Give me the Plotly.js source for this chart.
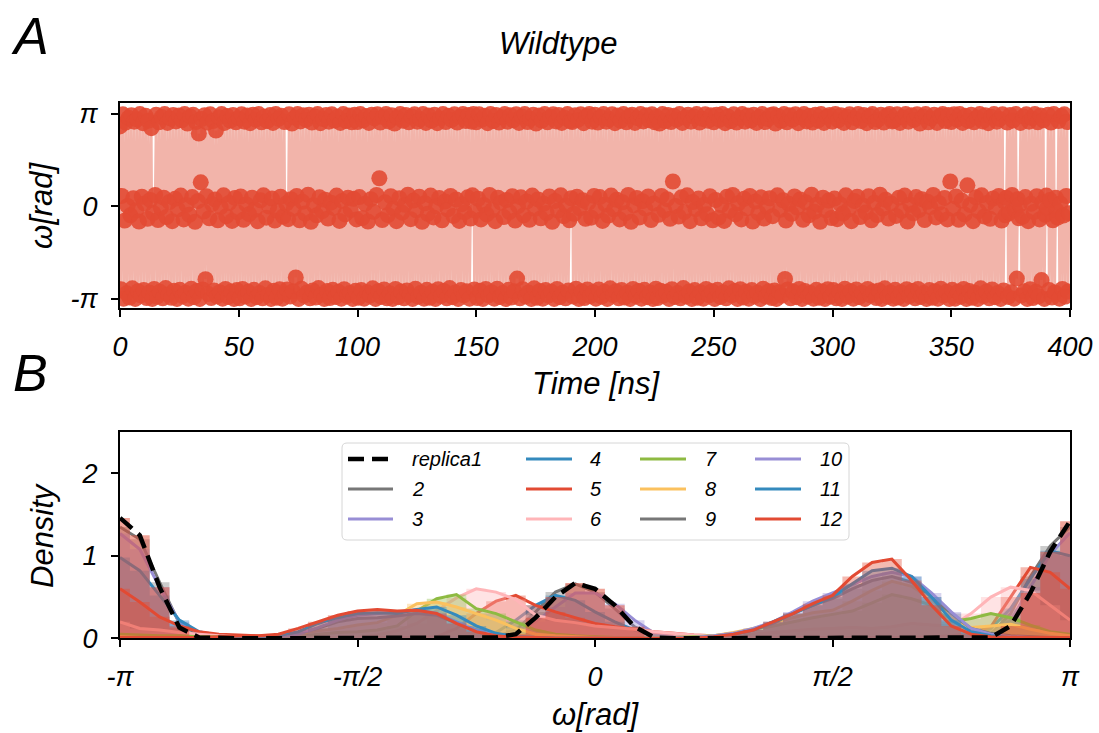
<!DOCTYPE html>
<html>
<head>
<meta charset="utf-8">
<script src="https://cdn.plot.ly/plotly-3.0.1.min.js"></script>
<style>
  html, body { margin: 0; padding: 0; background: #ffffff; }
  #chart { width: 1099px; height: 733px; }
</style>
</head>
<body>
<div id="chart"></div>
<script>
// ---------------------------------------------------------------
// Panel A: omega dihedral of the wildtype trajectory, one frame
// every 0.4 ns, stored in 50 ns blocks.
// ---------------------------------------------------------------
const frameStep = 0.4;
const blockStarts = [0, 50, 100, 150, 200, 250, 300, 350];

const omega_000_050 = [
  2.72,-2.81,0.36, 3.13,-3.13,-0.48, 2.85,-2.95,0.02, 3.01,-3.09,-0.3, 3.1,-2.78,0.28, 2.88,-3.14,-0.14,
  2.96,-2.88,-0.51, 3.14,-3.02,0.33, 2.83,-2.84,0.1, 3.08,-3.11,-0.42, 2.91,-2.92,0.22, 2.66,-3.14,-0.22,
  -2.8,0.39,
  3.12,-3.06,-0.46, 2.86,-2.9,-0.05, 3.04,-3.12,0.3, 3.14,-2.77,-0.36, 2.84,-2.99,0.15, 2.99,-3.1,-0.5,
  3.11,-2.86,0.26, 2.89,-3.14,-0.1, 3.09,-2.83,0.37, 2.93,-3.04,-0.44, 3.14,-2.93,0.05, 2.82,-3.13,-0.28,
  3.06,-2.79,0.32, 3.12,-3.08,-0.52, 2.87,-2.87,0.18, 2.48,-3.14,0.82, 2.97,-2.82,-0.17, 3.1,-2.47,0.35,
  2.85,-2.97,-0.4, 3.13,-3.11,0.08, 2.9,-2.85,0.24, 2.58,-3.05,-0.47, 3.03,-2.91,-0.02, 3.14,-3.13,0.38,
  2.84,-2.8,-0.33, 3.07,-3.07,0.12, 2.92,-2.89,-0.49, 3.11,-3.14,0.29, 2.86,-2.84,-0.2];
const omega_050_100 = [
  3.0,-3.12,0.34, 3.13,-2.8,-0.45, 2.88,-3.05,0.07, 3.09,-2.9,-0.26, 2.83,-3.14,0.3, 3.12,-2.83,-0.11,
  2.95,-3.08,-0.5, 3.14,-2.94,0.21, 2.86,-3.12,0.38, 3.05,-2.78,-0.38, 2.9,-3.01,0.0, 3.11,-3.14,0.27,
  2.84,-2.86,-0.48, 3.14,-3.1,-0.15, 2.98,-2.81,0.33, 3.08,-3.13,-0.34, 2.87,-2.96,0.1,
  -2.82,-0.43,
  3.13,-3.06,0.25, 2.82,-2.88,-0.08, 3.02,-2.41,0.36, 3.14,-3.14,-0.47, 2.89,-2.79,0.16, 3.1,-3.03,-0.24,
  2.94,-2.92,0.4, 3.12,-3.12,-0.52, 2.85,-2.85,0.04, 3.06,-3.09,-0.3, 3.14,-2.77,0.31, 2.83,-3.0,-0.16,
  2.97,-3.14,0.23, 3.11,-2.87,-0.41, 2.88,-3.11,0.13, 3.13,-2.83,-0.05, 2.92,-3.07,0.37, 3.05,-2.9,-0.49,
  2.84,-3.13,0.19, 3.14,-2.81,-0.27, 2.9,-3.04,0.3, 3.09,-2.94,-0.12, 2.86,-3.14,0.26, 3.12,-2.86,-0.44];
const omega_100_150 = [
  2.87,-3.1,0.32, 3.14,-2.84,-0.39, 2.93,-3.13,0.09, 3.07,-2.91,-0.51, 2.84,-3.03,0.25, 3.12,-2.78,-0.18,
  2.99,-3.14,0.39, 3.13,-2.88,0.96, 2.85,-3.07,-0.46, 3.04,-2.82,0.14, 3.14,-3.12,-0.29, 2.89,-2.95,0.35,
  3.1,-3.14,-0.07, 2.82,-2.8,-0.5, 3.02,-3.08,0.28, 3.14,-2.89,-0.21, 2.91,-3.12,0.06, 3.11,-2.85,0.4,
  2.86,-3.0,-0.43, 3.06,-3.14,0.2, 3.13,-2.79,-0.13, 2.88,-3.06,0.33, 2.96,-2.93,-0.52, 3.14,-3.13,0.11,
  2.84,-2.83,-0.25, 3.09,-3.1,0.37, 2.92,-2.9,-0.37, 3.12,-3.14,0.02, 2.83,-2.81,0.29, 3.0,-3.04,-0.47,
  3.14,-2.87,0.17, 2.87,-3.12,-0.1, 3.08,-2.77,0.36, 2.94,-3.08,-0.32, 3.13,-2.92,0.24, 2.85,-3.14,-0.49,
  3.05,-2.84,0.08, 3.14,-3.02,-0.2, 2.9,-2.88,0.31, 3.11,-3.13,-0.41,
  2.88,0.38,
  3.14,-2.82,-0.15];
const omega_150_200 = [
  2.86,-3.11,0.26, 3.13,-2.86,-0.44, 2.95,-3.14,0.05, 3.08,-2.8,-0.27, 2.83,-3.02,0.39, 3.14,-2.91,-0.12,
  2.9,-3.13,-0.5, 3.11,-2.79,0.3, 2.85,-3.07,0.13, 3.03,-2.94,-0.36, 3.14,-3.14,0.22, 2.88,-2.83,-0.19,
  3.1,-3.09,0.35, 2.93,-2.88,-0.48, 3.13,-2.45,0.01, 2.84,-3.12,0.31, 3.06,-2.81,-0.3, 3.14,-3.05,0.17,
  2.87,-2.92,-0.45, 2.98,-3.14,0.37, 3.12,-2.78,-0.08, 2.82,-3.1,0.24, 3.09,-2.87,-0.4, 2.92,-3.13,0.09,
  3.14,-2.84,-0.22, 2.86,-3.03,0.34, 3.05,-2.9,-0.52, 3.13,-3.14,0.19, 2.89,-2.8,-0.14, 3.11,-3.08,0.38,
  2.84,-2.93,-0.33, 3.01,-3.12,0.03, 3.14,-2.85,-0.47,
  2.9,0.28,
  2.87,-3.06,-0.25, 3.1,-2.79,0.33, 2.94,-3.14,-0.06, 3.13,-2.89,0.21, 2.83,-3.11,-0.42, 3.07,-2.82,0.12,
  3.14,-3.04,-0.38, 2.88,-2.91,0.36];
const omega_200_250 = [
  3.12,-3.13,-0.16, 2.85,-2.82,0.32, 3.04,-3.06,-0.49, 3.14,-2.9,0.07, 2.88,-3.14,-0.31, 2.96,-2.78,0.37,
  3.13,-3.01,-0.1, 2.83,-2.88,0.23, 3.09,-3.12,-0.44, 2.91,-2.84,0.14, 3.14,-3.09,-0.23, 2.86,-2.93,0.39,
  3.07,-3.14,-0.52, 3.12,-2.8,0.04, 2.84,-3.04,0.29, 3.0,-2.87,-0.37, 3.14,-3.13,0.18, 2.89,-2.83,-0.07,
  3.1,-3.08,0.34, 2.93,-2.92,-0.46, 3.13,-3.14,0.1,
  2.86,-2.79,
  3.05,-3.11,-0.28, 2.82,-2.86,0.36, 3.14,-3.03,-0.13, 2.9,-2.9,0.25, 3.11,-3.14,-0.42, 2.87,-2.81,0.85,
  3.08,-3.07,0.02, 2.95,-2.94,-0.34, 3.14,-3.12,0.31, 2.84,-2.77,-0.19, 3.02,-3.05,0.38, 3.12,-2.89,-0.5,
  2.88,-3.14,0.15, 3.06,-2.84,-0.09, 3.14,-3.1,0.27, 2.85,-2.91,-0.4, 2.98,-3.13,0.06, 3.13,-2.8,-0.26,
  2.91,-3.02,0.35, 3.1,-2.88,-0.47];
const omega_250_300 = [
  2.86,-3.14,0.22, 3.12,-2.83,-0.38, 2.94,-3.07,0.05, 3.14,-2.92,-0.49, 2.83,-3.12,0.33, 3.06,-2.78,-0.15,
  2.9,-3.02,0.39, 3.13,-2.87,-0.27, 2.85,-3.14,0.11, 3.01,-2.81,-0.44, 3.14,-3.09,0.26, 2.88,-2.9,-0.06,
  3.09,-3.13,0.36, 2.92,-2.84,-0.51, 3.12,-3.04,0.17, 2.84,-2.93,-0.22, 3.04,-3.14,0.31, 3.14,-2.79,-0.41,
  2.87,-3.06,0.0, 2.97,-2.88,0.28, 3.11,-3.11,-0.33,
  3.13,-2.85,
  2.82,-3.14,0.38, 3.07,-2.91,-0.11, 2.91,-3.03,0.21, 3.14,-2.46,-0.48, 2.86,-2.82,0.09, 3.1,-3.12,-0.25,
  2.95,-2.9,0.34, 3.13,-3.08,-0.04, 2.83,-2.8,0.24, 3.03,-3.14,-0.45, 3.14,-2.87,0.14, 2.89,-3.05,-0.3,
  3.08,-2.94,0.4, 2.85,-3.13,-0.18, 3.12,-2.83,0.07, 2.93,-3.1,-0.52, 3.14,-2.89,0.3, 2.84,-3.14,-0.13,
  3.05,-2.81,0.2, 3.11,-3.06,-0.39];
const omega_300_350 = [
  2.88,-2.84,0.27, 3.14,-3.12,-0.43, 2.93,-2.9,0.08, 3.1,-3.14,-0.24, 2.84,-2.79,0.38, 3.05,-3.05,-0.1,
  3.13,-2.88,-0.5, 2.86,-3.13,0.19, 3.0,-2.82,0.33, 3.14,-3.08,-0.36, 2.9,-2.93,0.03, 3.11,-3.14,-0.2,
  2.83,-2.8,0.35, 3.07,-3.02,-0.47, 3.14,-2.89,0.13, 2.87,-3.11,-0.29, 2.95,-2.85,0.4, 3.12,-3.14,-0.07,
  2.85,-2.78,0.23, 3.09,-3.06,-0.41, 3.14,-2.92,0.1,
  2.89,-3.13,
  2.92,-2.83,-0.32, 3.13,-3.09,0.3, 2.84,-2.91,-0.15, 3.03,-3.14,0.37, 3.14,-2.81,-0.51, 2.88,-3.04,0.06,
  3.1,-2.87,-0.23, 2.94,-3.12,0.32, 3.13,-2.8,-0.12, 2.82,-3.07,0.25, 3.06,-2.94,-0.46, 3.14,-3.14,0.16,
  2.86,-2.84,-0.02, 2.99,-3.1,0.39, 3.12,-2.88,-0.37, 2.84,-3.13,0.12, 3.08,-2.79,-0.26, 3.14,-3.03,0.29,
  2.9,-2.9,-0.44, 3.11,-3.14,0.85];
const omega_350_400 = [
  2.87,-2.83,-0.08, 3.13,-3.13,0.34, 2.95,-2.9,-0.45, 3.14,-3.06,0.2, 2.84,-2.8,-0.27, 3.08,-3.14,0.72,
  2.91,-2.87,0.05, 3.12,-3.1,-0.5, 2.86,-2.93,0.31, 3.02,-3.14,-0.16, 3.14,-2.78,0.38, 2.89,-3.04,-0.34,
  3.1,-2.89,0.12, 2.83,-3.12,-0.42, 3.05,-2.82,0.27, 3.14,-3.08,-0.02, 2.88,-2.94,0.36, 2.97,-3.14,-0.48,
  3.13,-2.85,0.17,
  -0.3,0.3,
  2.85,-3.07,-0.22, 3.11,-2.91,0.39, 2.92,-3.13,-0.11, 3.14,-2.45,0.25,
  -0.4,0.06,
  2.84,-3.02,-0.35, 3.06,-2.88,0.32, 3.13,-3.14,-0.5, 2.88,-2.81,0.09, 3.0,-3.11,-0.19, 3.14,-2.9,0.35,
  2.86,-3.05,-0.44, 3.09,-2.5,0.14, 2.93,-3.14,-0.28,
  0.37,-0.05,
  3.12,-2.84,0.22, 2.85,-3.09,-0.47, 3.14,-2.92,0.3,
  -0.14,-0.38,
  2.9,-3.13,0.1, 3.07,-2.8,-0.31, 3.13,-3.06,0.36, 2.87,-2.89,-0.23];

const omegaBlocks = [omega_000_050, omega_050_100, omega_100_150, omega_150_200,
                     omega_200_250, omega_250_300, omega_300_350, omega_350_400];

const timeNs = [];
const omegaRad = [];
omegaBlocks.forEach((block, b) => {
  block.forEach((w, k) => {
    timeNs.push(blockStarts[b] + k * frameStep);
    omegaRad.push(w);
  });
});

const timeTicks = [0, 50, 100, 150, 200, 250, 300, 350, 400];
const omegaTickVals = [-Math.PI, 0, Math.PI];
const omegaTickText = ['-π', '0', 'π'];

// ---------------------------------------------------------------
// Panel B: omega density of the twelve replicas, on π/24 bins.
// ---------------------------------------------------------------
const omegaBins = [-3.1416,-3.0107,-2.8798,-2.7489,-2.6180,-2.4871,-2.3562,-2.2253,-2.0944,-1.9635,
  -1.8326,-1.7017,-1.5708,-1.4399,-1.3090,-1.1781,-1.0472,-0.9163,-0.7854,-0.6545,
  -0.5236,-0.3927,-0.2618,-0.1309,0,0.1309,0.2618,0.3927,0.5236,0.6545,
  0.7854,0.9163,1.0472,1.1781,1.3090,1.4399,1.5708,1.7017,1.8326,1.9635,
  2.0944,2.2253,2.3562,2.4871,2.6180,2.7489,2.8798,3.0107,3.1416];

const replica1  = [1.46,1.25,0.62,0.13,0.01, 0,0,0,0,0, 0,0,0,0,0, 0,0,0,0,0.01, 0.05,0.25,0.5,0.67,0.6, 0.4,0.14,0.01,0,0, 0,0,0,0,0, 0,0,0,0,0, 0,0,0,0,0.01, 0.15,0.55,1.05,1.42];
const replica2  = [1.35,1.2,0.68,0.18,0.04, 0.01,0,0,0,0, 0,0,0,0,0, 0,0,0,0,0.02, 0.1,0.32,0.56,0.66,0.56, 0.36,0.14,0.03,0.01,0, 0,0,0,0,0, 0,0,0,0,0, 0,0,0,0.01,0.05, 0.3,0.75,1.12,1.35];
const replica3  = [1.27,1.08,0.62,0.2,0.06, 0.02,0.01,0,0,0, 0,0,0,0,0, 0,0,0,0.01,0.03, 0.08,0.2,0.38,0.55,0.55, 0.42,0.22,0.06,0.02,0.01, 0,0,0,0,0, 0,0,0,0,0, 0,0,0,0.01,0.04, 0.22,0.62,1.02,1.28];
const replica4  = [0.98,0.82,0.52,0.22,0.08, 0.03,0.01,0,0,0, 0,0,0,0,0, 0,0,0,0.02,0.07, 0.22,0.4,0.52,0.46,0.32, 0.2,0.1,0.03,0.01,0, 0,0,0,0,0, 0,0,0,0,0, 0,0,0.01,0.03,0.12, 0.36,0.72,1.06,1.0];
const replica5  = [0.6,0.44,0.26,0.15,0.08, 0.05,0.04,0.03,0.02,0.02, 0.01,0.01,0.01,0.01,0.01, 0.01,0.02,0.12,0.3,0.45, 0.52,0.4,0.32,0.25,0.18, 0.14,0.11,0.08,0.06,0.04, 0.03,0.02,0.01,0.01,0.01, 0.01,0.01,0.01,0.01,0.01, 0.01,0.02,0.03,0.06,0.14, 0.5,0.86,0.8,0.6];
const replica6  = [0.2,0.12,0.1,0.07,0.05, 0.03,0.02,0.02,0.01,0.01, 0.01,0.01,0.01,0.04,0.09, 0.18,0.33,0.49,0.6,0.56, 0.47,0.28,0.22,0.19,0.15, 0.13,0.11,0.08,0.06,0.04, 0.03,0.04,0.05,0.07,0.09, 0.11,0.12,0.13,0.12,0.14, 0.18,0.16,0.15,0.3,0.5, 0.62,0.58,0.4,0.22];
const replica7  = [0.05,0.04,0.03,0.03,0.02, 0.02,0.01,0.01,0.01,0.02, 0.05,0.07,0.08,0.1,0.15, 0.33,0.48,0.53,0.36,0.3, 0.2,0.1,0.05,0.03,0.02, 0.01,0.01,0.01,0.01,0.02, 0.03,0.06,0.1,0.15,0.2, 0.25,0.29,0.33,0.43,0.53, 0.48,0.4,0.2,0.24,0.3, 0.25,0.16,0.08,0.05];
const replica8  = [0.02,0.01,0.01,0.01,0.01, 0.01,0.01,0.01,0.03,0.05, 0.09,0.12,0.16,0.19,0.28, 0.42,0.44,0.38,0.3,0.22, 0.12,0.05,0.03,0.02,0.01, 0.01,0.01,0.01,0.01,0.01, 0.03,0.07,0.12,0.18,0.25, 0.31,0.34,0.45,0.58,0.69, 0.63,0.47,0.25,0.13,0.15, 0.17,0.11,0.06,0.03];
const replica9  = [0.01,0,0,0,0, 0,0,0.01,0.03,0.06, 0.12,0.2,0.24,0.25,0.27, 0.3,0.28,0.18,0.1,0.05, 0.02,0.01,0,0,0, 0,0,0,0,0.01, 0.02,0.05,0.1,0.18,0.3, 0.4,0.48,0.6,0.7,0.75, 0.68,0.5,0.3,0.12,0.06, 0.03,0.02,0.01,0.01];
const replica10 = [0.01,0,0,0,0, 0,0,0.01,0.02,0.05, 0.13,0.22,0.28,0.3,0.32, 0.35,0.3,0.2,0.1,0.05, 0.02,0.01,0,0,0, 0,0,0,0,0.01, 0.03,0.06,0.12,0.2,0.32, 0.45,0.55,0.65,0.75,0.8, 0.75,0.55,0.32,0.12,0.05, 0.02,0.01,0.01,0.01];
const replica11 = [0.01,0,0,0,0, 0,0,0.01,0.03,0.08, 0.18,0.25,0.3,0.31,0.3, 0.35,0.38,0.28,0.15,0.06, 0.02,0.01,0,0,0, 0,0,0,0,0, 0.02,0.05,0.1,0.2,0.3, 0.4,0.5,0.66,0.82,0.85, 0.75,0.5,0.22,0.08,0.03, 0.01,0.01,0.01,0.01];
const replica12 = [0.01,0.01,0.01,0.01,0.01, 0.02,0.03,0.03,0.05,0.12, 0.2,0.28,0.33,0.35,0.33, 0.34,0.3,0.18,0.08,0.03, 0.01,0.01,0,0,0, 0,0,0,0,0, 0.02,0.05,0.1,0.2,0.3, 0.42,0.52,0.75,0.92,0.96, 0.7,0.4,0.15,0.05,0.02, 0.01,0.01,0.01,0.01];

const replicaNames  = ['replica1','2','3','4','5','6','7','8','9','10','11','12'];
const replicaColors = ['#000000','#777777','#988ED5','#348ABD','#E24A33','#FFB5B8',
                       '#8EBA42','#FBC15E','#777777','#988ED5','#348ABD','#E24A33'];
// shaded area colour of each replica (replica1 keeps the first cycle colour)
const replicaFillColors = ['#E24A33','#777777','#988ED5','#348ABD','#E24A33','#FFB5B8',
                           '#8EBA42','#FBC15E','#777777','#988ED5','#348ABD','#E24A33'];
const replicaDensity = [replica1, replica2, replica3, replica4, replica5, replica6,
                        replica7, replica8, replica9, replica10, replica11, replica12];

const densityTicks = [0, 1, 2];
const binTickVals = [-Math.PI, -Math.PI / 2, 0, Math.PI / 2, Math.PI];
const binTickText = ['-π', '-π/2', '0', 'π/2', 'π'];

// ---------------------------------------------------------------
// Figure geometry and styling
// ---------------------------------------------------------------
const FIG_W = 1099, FIG_H = 733;
const M_L = 120, M_R = 29;
const PLOT_W = FIG_W - M_L - M_R;
const px = x => (x - M_L) / PLOT_W;     // pixel column -> paper x
const py = y => (FIG_H - y) / FIG_H;    // pixel row -> paper y

const FONT = 'Liberation Sans, Arial, Helvetica, sans-serif';
const tickFont = { family: FONT, size: 27, color: '#000000', style: 'italic' };
const labelFont = { family: FONT, size: 31, color: '#000000', style: 'italic' };

function hexToRgba(hex, a) {
  const n = parseInt(hex.slice(1), 16);
  return `rgba(${(n >> 16) & 255},${(n >> 8) & 255},${n & 255},${a})`;
}

const axisCommon = {
  showline: true, linecolor: '#000000', linewidth: 2, mirror: true,
  ticks: 'outside', ticklen: 7, tickwidth: 2, tickcolor: '#000000',
  showgrid: false, zeroline: false, tickfont: tickFont, fixedrange: true
};

const traces = [];

// Panel A: connecting path (light) and frames (markers)
traces.push({
  type: 'scatter', mode: 'lines', x: timeNs, y: omegaRad,
  xaxis: 'x', yaxis: 'y', hoverinfo: 'skip', showlegend: false,
  line: { color: '#F2B4AA', width: 2.5, simplify: false }
});
traces.push({
  type: 'scatter', mode: 'markers', x: timeNs, y: omegaRad,
  xaxis: 'x', yaxis: 'y', hoverinfo: 'skip', showlegend: false,
  marker: { color: '#E24A33', size: 16, opacity: 0.9, line: { width: 0 } }
});

// Panel B: shaded step area and density line per replica, replica1 last
const drawOrder = [1,2,3,4,5,6,7,8,9,10,11,0];
drawOrder.forEach(r => {
  const isRef = r === 0;
  traces.push({
    type: 'scatter', mode: 'lines', x: omegaBins, y: replicaDensity[r],
    xaxis: 'x2', yaxis: 'y2', showlegend: false, hoverinfo: 'skip',
    fill: 'tozeroy', fillcolor: hexToRgba(replicaFillColors[r], isRef ? 0.5 : 0.38),
    line: { width: 0, shape: 'hvh', color: 'rgba(0,0,0,0)' }
  });
  traces.push({
    type: 'scatter', mode: 'lines', x: omegaBins, y: replicaDensity[r],
    xaxis: 'x2', yaxis: 'y2', name: replicaNames[r], showlegend: false, hoverinfo: 'skip',
    line: isRef ? { color: '#000000', width: 4.5, dash: '16px,8px' }
                : { color: replicaColors[r], width: 3 }
  });
});

// Legend: four columns of three entries
const legendColumns = [[0,1,2],[3,4,5],[6,7,8],[9,10,11]];
const legendLineX = [[348,393],[526,572],[640,686],[755,801]];
const legendTextX = [410, 588, 703, 818];
const legendRowY = [459, 489, 519];
const box = { x0: 342, x1: 849, y0: 443, y1: 540, r: 5 };

const shapes = [];
const annotations = [];

{
  const rx = box.r / PLOT_W, ry = box.r / FIG_H;
  const X0 = px(box.x0), X1 = px(box.x1), Y0 = py(box.y1), Y1 = py(box.y0);
  shapes.push({
    type: 'path', xref: 'paper', yref: 'paper', layer: 'above',
    path: `M ${X0 + rx} ${Y0} L ${X1 - rx} ${Y0} Q ${X1} ${Y0} ${X1} ${Y0 + ry} ` +
          `L ${X1} ${Y1 - ry} Q ${X1} ${Y1} ${X1 - rx} ${Y1} L ${X0 + rx} ${Y1} ` +
          `Q ${X0} ${Y1} ${X0} ${Y1 - ry} L ${X0} ${Y0 + ry} Q ${X0} ${Y0} ${X0 + rx} ${Y0} Z`,
    fillcolor: 'rgba(255,255,255,0.8)', line: { color: '#D6D6D6', width: 1 }
  });
}

legendColumns.forEach((col, c) => {
  col.forEach((r, row) => {
    const isRef = r === 0;
    shapes.push({
      type: 'line', xref: 'paper', yref: 'paper', layer: 'above',
      x0: px(legendLineX[c][0]), x1: px(legendLineX[c][1]),
      y0: py(legendRowY[row]), y1: py(legendRowY[row]),
      line: isRef ? { color: '#000000', width: 4.5, dash: '16px,8px' }
                  : { color: replicaColors[r], width: 3 }
    });
    annotations.push({
      xref: 'paper', yref: 'paper', x: px(legendTextX[c]), y: py(legendRowY[row]),
      xanchor: 'left', yanchor: 'middle', showarrow: false, text: replicaNames[r],
      font: { family: FONT, size: 20, color: '#000000', style: 'italic' }
    });
  });
});

// Panel letters, title and axis labels
annotations.push(
  { xref: 'paper', yref: 'paper', x: px(30), y: py(36), xanchor: 'center', yanchor: 'middle',
    showarrow: false, text: 'A', font: { family: FONT, size: 52, color: '#000000', style: 'italic' } },
  { xref: 'paper', yref: 'paper', x: px(30), y: py(373), xanchor: 'center', yanchor: 'middle',
    showarrow: false, text: 'B', font: { family: FONT, size: 52, color: '#000000', style: 'italic' } },
  { xref: 'paper', yref: 'paper', x: px(558), y: py(44), xanchor: 'center', yanchor: 'middle',
    showarrow: false, text: 'Wildtype', font: { family: FONT, size: 31, color: '#000000', style: 'italic' } },
  { xref: 'paper', yref: 'paper', x: px(596), y: py(383), xanchor: 'center', yanchor: 'middle',
    showarrow: false, text: 'Time [ns]', font: labelFont },
  { xref: 'paper', yref: 'paper', x: px(596), y: py(714), xanchor: 'center', yanchor: 'middle',
    showarrow: false, text: 'ω[rad]', font: labelFont },
  { xref: 'paper', yref: 'paper', x: px(42), y: py(205), xanchor: 'center', yanchor: 'middle',
    showarrow: false, text: 'ω[rad]', textangle: -90, font: labelFont },
  { xref: 'paper', yref: 'paper', x: px(42), y: py(535), xanchor: 'center', yanchor: 'middle',
    showarrow: false, text: 'Density', textangle: -90, font: labelFont }
);

const layout = {
  width: FIG_W, height: FIG_H,
  margin: { l: M_L, r: M_R, t: 0, b: 0, pad: 0 },
  paper_bgcolor: '#ffffff', plot_bgcolor: '#ffffff',
  showlegend: false,
  font: { family: FONT, color: '#000000' },
  xaxis: Object.assign({}, axisCommon, {
    domain: [0, 1], anchor: 'y', range: [0, 400],
    tickmode: 'array', tickvals: timeTicks, ticktext: timeTicks.map(String),
    ticklabelstandoff: 6
  }),
  yaxis: Object.assign({}, axisCommon, {
    domain: [py(308.3), py(103.3)], anchor: 'x', range: [-3.458, 3.505],
    tickmode: 'array', tickvals: omegaTickVals, ticktext: omegaTickText,
    ticklabelstandoff: 8
  }),
  xaxis2: Object.assign({}, axisCommon, {
    domain: [0, 1], anchor: 'y2', range: [-Math.PI, Math.PI],
    tickmode: 'array', tickvals: binTickVals, ticktext: binTickText,
    ticklabelstandoff: 6
  }),
  yaxis2: Object.assign({}, axisCommon, {
    domain: [py(638.3), py(432.1)], anchor: 'x2', range: [0, 2.5],
    tickmode: 'array', tickvals: densityTicks, ticktext: densityTicks.map(String),
    ticklabelstandoff: 8
  }),
  shapes: shapes,
  annotations: annotations
};

Plotly.newPlot('chart', traces, layout, { displayModeBar: false, staticPlot: true });
</script>
</body>
</html>
